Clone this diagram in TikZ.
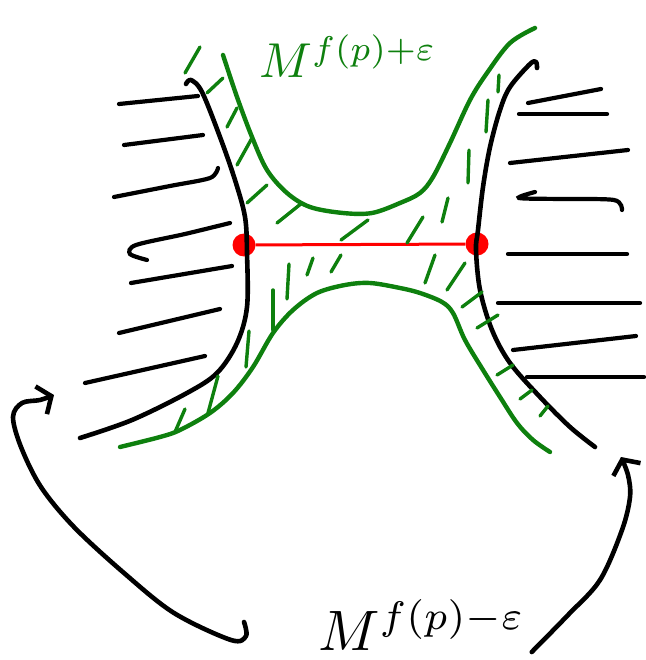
\documentclass[tikz,border=0pt]{standalone}
\usepackage{tikz}
\usetikzlibrary{arrows.meta}
\definecolor{Leaf}{HTML}{0E800E}
\definecolor{Crit}{HTML}{FF0000}

\begin{document}
\begin{tikzpicture}[
  x=1pt,y=-1pt,
  ink/.style={draw=black,line width=4.6pt,line cap=round,line join=round},
  level/.style={draw=Leaf,line width=4.4pt,line cap=round,line join=round},
  shade/.style={draw=black,line width=4.2pt,line cap=round},
  ghatch/.style={draw=Leaf,line width=3.4pt,line cap=round},
  crit/.style={circle,fill=Crit,inner sep=0pt,minimum size=23pt},
  lbl/.style={inner sep=0pt,anchor=base west},
  arrow/.style={ink,-{Straight Barb[length=11pt,width=30pt]}}
]
\useasboundingbox (0,0) rectangle (645,660);

% labels
\node[lbl,text=Leaf] (upper) at (259,78) {\scalebox{4.9}{$M^{f(p)+\varepsilon}$}};
\node[lbl] (lower) at (318,650) {\scalebox{5.7}{$M^{f(p)-\varepsilon}$}};

% critical points
\node[crit] (pL) at (244,245) {};
\node[crit] (pR) at (477,244) {};
\draw[draw=Crit,line width=3pt] (pL) -- (pR);

% level set boundary
\draw[ink] plot[smooth,tension=0.55] coordinates {(186,84) (191,80) (202,92) (220,137) (235,180) (245,217) (247,253) (247,307) (237,343) (217,373) (187,393) (132,420) (80,438)};
\draw[ink] plot[smooth,tension=0.55] coordinates {(537,68) (536,62) (530,64) (510,87) (500,110) (490,147) (483,187) (478,230) (476,250) (480,290) (492,330) (510,363) (540,397) (570,427) (595,447)};

% green band
\draw[level] plot[smooth,tension=0.55] coordinates {(223,55) (237,97) (252,137) (267,170) (287,193) (310,207) (343,213) (372,213) (400,203) (420,193) (433,177) (450,143) (470,100) (487,73) (510,43) (535,28)};
\draw[level] plot[smooth,tension=0.55] coordinates {(120,447) (160,437) (180,430) (210,413) (233,393) (253,367) (273,333) (293,310) (317,293) (345,285) (370,283) (400,288) (420,293) (442,302) (453,313) (465,340) (483,370) (500,397) (517,423) (533,440) (550,452)};

\foreach \xa/\ya/\xb/\yb in {200/47/185/73,223/78/207/93,237/108/227/127,252/138/237/165,267/185/247/203,302/203/277/223,368/220/341/240,423/217/407/243,448/198/442/222,469/150/468/183,499/75/498/92,488/100/486/132,289/264/287/299,313/258/307/275,341/255/331/272,273/290/273/330,249/331/246/367,218/376/208/413,185/409/175/432,435/255/425/283,465/263/447/290,482/292/462/307,498/315/477/328,513/365/497/375,532/390/520/399,548/406/540/416}
  \draw[ghatch] (\xa,\ya) -- (\xb,\yb);

% sublevel shading
\foreach \xa/\ya/\xb/\yb in {119/104/198/96,124/145/203/135,131/283/232/266,119/333/220/309,85/383/205/356,528/103/601/89,519/114/607/114,510/163/628/150,508/254/627/254,498/303/640/303,513/350/636/336,527/377/644/377}
  \draw[shade] (\xa,\ya) -- (\xb,\yb);
\draw[shade] plot[smooth,tension=0.5] coordinates {(114,197) (170,186) (210,178) (218,168)};
\draw[shade] plot[smooth,tension=0.5] coordinates {(147,260) (130,254) (136,245) (185,234) (230,223)};
\draw[shade] plot[smooth,tension=0.5] coordinates {(535,192) (519,198) (560,199) (614,200) (622,210)};

% arrows from the lower label
\coordinate (fromL) at ([shift={(-74,-28)}]lower.base west);
\coordinate (fromR) at ([shift={(6,2)}]lower.base east);
\coordinate (tipL) at (54,395);
\coordinate (tipR) at (621,457);
\draw[arrow] plot[smooth,tension=0.55] coordinates {(fromL) (246,636) (231,640) (174,613) (124,573) (74,527) (41,487) (21,447) (13,417) (22,403) (40,400) (tipL)};
\draw[arrow] plot[smooth,tension=0.55] coordinates {(fromR) (568,615) (600,580) (622,530) (630,497) (628,475) (tipR)};
\end{tikzpicture}
\end{document}
